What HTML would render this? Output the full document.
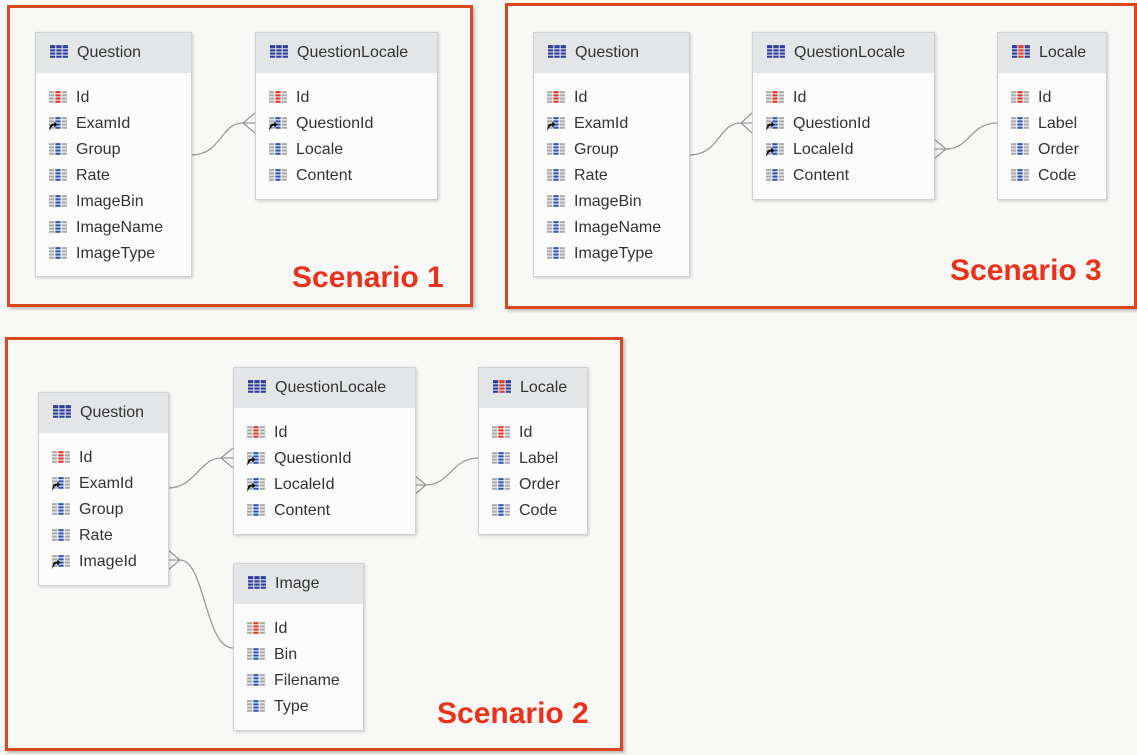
<!DOCTYPE html>
<html><head><meta charset="utf-8"><style>
body{margin:0;width:1137px;height:755px;background:#f8f8f6;position:relative;overflow:hidden;font-family:"Liberation Sans",sans-serif}
.frame{position:absolute;border:3px solid #d9461f;box-shadow:2px 2px 3px rgba(0,0,0,.25)}
.t{position:absolute;background:#fcfcfc;border:1px solid #cfd2d4;box-shadow:1px 1px 3px rgba(0,0,0,.18)}
.h{height:40px;background:#e3e5e7;line-height:40px;font-size:16px;color:#333;padding-left:14px;white-space:nowrap}
.h svg,.r svg{vertical-align:-3px;margin-right:8px}
.b{padding-top:12px}
.r{height:26px;line-height:26px;font-size:16px;color:#333;padding-left:13px;white-space:nowrap}
.lbl{position:absolute;color:#e8321c;font-weight:bold;font-size:30px}
svg.ov{position:absolute;left:0;top:0}
</style></head><body>
<svg width="0" height="0" style="position:absolute">
<defs>
<symbol id="tb" viewBox="0 0 18 14"><g fill="#2f3e9e"><rect x="0" y="0" width="5" height="3"/><rect x="6" y="0" width="5" height="3"/><rect x="12" y="0" width="5" height="3"/><rect x="0" y="4" width="5" height="2"/><rect x="6" y="4" width="5" height="2"/><rect x="12" y="4" width="5" height="2"/><rect x="0" y="7" width="5" height="2"/><rect x="6" y="7" width="5" height="2"/><rect x="12" y="7" width="5" height="2"/><rect x="0" y="10" width="5" height="2"/><rect x="6" y="10" width="5" height="2"/><rect x="12" y="10" width="5" height="2"/></g></symbol>
<symbol id="lt" viewBox="0 0 18 14"><g fill="#2f3e9e"><rect x="0" y="0" width="5" height="3"/><rect x="12" y="0" width="5" height="3"/><rect x="0" y="4" width="5" height="2"/><rect x="12" y="4" width="5" height="2"/><rect x="0" y="7" width="5" height="2"/><rect x="12" y="7" width="5" height="2"/><rect x="0" y="10" width="5" height="2"/><rect x="12" y="10" width="5" height="2"/></g><g fill="#d8412a"><rect x="6" y="0" width="5" height="3"/><rect x="6" y="4" width="5" height="2"/><rect x="6" y="7" width="5" height="2"/><rect x="6" y="10" width="5" height="2"/></g></symbol>
<symbol id="pk" viewBox="0 0 18 14"><g fill="#a8a8a8"><rect x="0" y="1" width="5" height="2"/><rect x="12" y="1" width="5" height="2"/><rect x="0" y="4" width="5" height="2"/><rect x="12" y="4" width="5" height="2"/><rect x="0" y="7" width="5" height="2"/><rect x="12" y="7" width="5" height="2"/><rect x="0" y="10" width="5" height="2"/><rect x="12" y="10" width="5" height="2"/></g><g fill="#e0352a"><rect x="6" y="1" width="5" height="2"/><rect x="6" y="4" width="5" height="2"/><rect x="6" y="7" width="5" height="2"/><rect x="6" y="10" width="5" height="2"/></g></symbol>
<symbol id="co" viewBox="0 0 18 14"><g fill="#a8a8a8"><rect x="0" y="1" width="5" height="2"/><rect x="12" y="1" width="5" height="2"/><rect x="0" y="4" width="5" height="2"/><rect x="12" y="4" width="5" height="2"/><rect x="0" y="7" width="5" height="2"/><rect x="12" y="7" width="5" height="2"/><rect x="0" y="10" width="5" height="2"/><rect x="12" y="10" width="5" height="2"/></g><g fill="#2d52b8"><rect x="6" y="1" width="5" height="2"/><rect x="6" y="4" width="5" height="2"/><rect x="6" y="7" width="5" height="2"/><rect x="6" y="10" width="5" height="2"/></g></symbol>
<symbol id="fk" viewBox="0 0 18 14"><use href="#co"/><path d="M0 14 L1 9 Q2 7 5 7 L5 5 L8 8 L5 11 L5 9 Q3 9 2 11 Z" fill="#111"/></symbol>
</defs></svg>

<div class="frame" style="left:7px;top:5px;width:460px;height:296px"></div>
<div class="frame" style="left:505px;top:3px;width:626px;height:300px"></div>
<div class="frame" style="left:5px;top:337px;width:612px;height:408px"></div>

<svg class="ov" width="1137" height="755" fill="none" stroke="#9a9a9a" stroke-width="1.3">
<path d="M191 155 C222 155 220 123 243 123 L255 123 M243 123 L255 113 M243 123 L255 133"/>
<path d="M689 155 C720 155 718 123 741 123 L752 123 M741 123 L752 113 M741 123 L752 133"/>
<path d="M934 149 L946 149 C970 149 970 123 997 123 M946 149 L934 139 M946 149 L934 159"/>
<path d="M168 488 C195 488 200 458 221 458 L233 458 M221 458 L233 448 M221 458 L233 468"/>
<path d="M414 485 L426 485 C450 485 452 458 478 458 M426 485 L414 475 M426 485 L414 495"/>
<path d="M168 560 L180 560 C205 560 205 648 233 648 M180 560 L168 550 M180 560 L168 570"/>
</svg>

<!-- Scenario 1 -->
<div class="t" style="left:35px;top:32px;width:155px;height:243px"><div class="h"><svg width="19" height="15"><use href="#tb"/></svg>Question</div><div class="b">
<div class="r"><svg width="19" height="15"><use href="#pk"/></svg>Id</div>
<div class="r"><svg width="19" height="15"><use href="#fk"/></svg>ExamId</div>
<div class="r"><svg width="19" height="15"><use href="#co"/></svg>Group</div>
<div class="r"><svg width="19" height="15"><use href="#co"/></svg>Rate</div>
<div class="r"><svg width="19" height="15"><use href="#co"/></svg>ImageBin</div>
<div class="r"><svg width="19" height="15"><use href="#co"/></svg>ImageName</div>
<div class="r"><svg width="19" height="15"><use href="#co"/></svg>ImageType</div></div></div>
<div class="t" style="left:255px;top:32px;width:181px;height:166px"><div class="h"><svg width="19" height="15"><use href="#tb"/></svg>QuestionLocale</div><div class="b">
<div class="r"><svg width="19" height="15"><use href="#pk"/></svg>Id</div>
<div class="r"><svg width="19" height="15"><use href="#fk"/></svg>QuestionId</div>
<div class="r"><svg width="19" height="15"><use href="#co"/></svg>Locale</div>
<div class="r"><svg width="19" height="15"><use href="#co"/></svg>Content</div></div></div>
<div class="lbl" style="left:292px;top:261px">Scenario 1</div>

<!-- Scenario 3 -->
<div class="t" style="left:533px;top:32px;width:155px;height:243px"><div class="h"><svg width="19" height="15"><use href="#tb"/></svg>Question</div><div class="b">
<div class="r"><svg width="19" height="15"><use href="#pk"/></svg>Id</div>
<div class="r"><svg width="19" height="15"><use href="#fk"/></svg>ExamId</div>
<div class="r"><svg width="19" height="15"><use href="#co"/></svg>Group</div>
<div class="r"><svg width="19" height="15"><use href="#co"/></svg>Rate</div>
<div class="r"><svg width="19" height="15"><use href="#co"/></svg>ImageBin</div>
<div class="r"><svg width="19" height="15"><use href="#co"/></svg>ImageName</div>
<div class="r"><svg width="19" height="15"><use href="#co"/></svg>ImageType</div></div></div>
<div class="t" style="left:752px;top:32px;width:181px;height:166px"><div class="h"><svg width="19" height="15"><use href="#tb"/></svg>QuestionLocale</div><div class="b">
<div class="r"><svg width="19" height="15"><use href="#pk"/></svg>Id</div>
<div class="r"><svg width="19" height="15"><use href="#fk"/></svg>QuestionId</div>
<div class="r"><svg width="19" height="15"><use href="#fk"/></svg>LocaleId</div>
<div class="r"><svg width="19" height="15"><use href="#co"/></svg>Content</div></div></div>
<div class="t" style="left:997px;top:32px;width:108px;height:166px"><div class="h"><svg width="19" height="15"><use href="#lt"/></svg>Locale</div><div class="b">
<div class="r"><svg width="19" height="15"><use href="#pk"/></svg>Id</div>
<div class="r"><svg width="19" height="15"><use href="#co"/></svg>Label</div>
<div class="r"><svg width="19" height="15"><use href="#co"/></svg>Order</div>
<div class="r"><svg width="19" height="15"><use href="#co"/></svg>Code</div></div></div>
<div class="lbl" style="left:950px;top:254px">Scenario 3</div>

<!-- Scenario 2 -->
<div class="t" style="left:38px;top:392px;width:129px;height:192px"><div class="h"><svg width="19" height="15"><use href="#tb"/></svg>Question</div><div class="b">
<div class="r"><svg width="19" height="15"><use href="#pk"/></svg>Id</div>
<div class="r"><svg width="19" height="15"><use href="#fk"/></svg>ExamId</div>
<div class="r"><svg width="19" height="15"><use href="#co"/></svg>Group</div>
<div class="r"><svg width="19" height="15"><use href="#co"/></svg>Rate</div>
<div class="r"><svg width="19" height="15"><use href="#fk"/></svg>ImageId</div></div></div>
<div class="t" style="left:233px;top:367px;width:181px;height:166px"><div class="h"><svg width="19" height="15"><use href="#tb"/></svg>QuestionLocale</div><div class="b">
<div class="r"><svg width="19" height="15"><use href="#pk"/></svg>Id</div>
<div class="r"><svg width="19" height="15"><use href="#fk"/></svg>QuestionId</div>
<div class="r"><svg width="19" height="15"><use href="#fk"/></svg>LocaleId</div>
<div class="r"><svg width="19" height="15"><use href="#co"/></svg>Content</div></div></div>
<div class="t" style="left:478px;top:367px;width:108px;height:166px"><div class="h"><svg width="19" height="15"><use href="#lt"/></svg>Locale</div><div class="b">
<div class="r"><svg width="19" height="15"><use href="#pk"/></svg>Id</div>
<div class="r"><svg width="19" height="15"><use href="#co"/></svg>Label</div>
<div class="r"><svg width="19" height="15"><use href="#co"/></svg>Order</div>
<div class="r"><svg width="19" height="15"><use href="#co"/></svg>Code</div></div></div>
<div class="t" style="left:233px;top:563px;width:129px;height:166px"><div class="h"><svg width="19" height="15"><use href="#tb"/></svg>Image</div><div class="b">
<div class="r"><svg width="19" height="15"><use href="#pk"/></svg>Id</div>
<div class="r"><svg width="19" height="15"><use href="#co"/></svg>Bin</div>
<div class="r"><svg width="19" height="15"><use href="#co"/></svg>Filename</div>
<div class="r"><svg width="19" height="15"><use href="#co"/></svg>Type</div></div></div>
<div class="lbl" style="left:437px;top:697px">Scenario 2</div>
</body></html>
